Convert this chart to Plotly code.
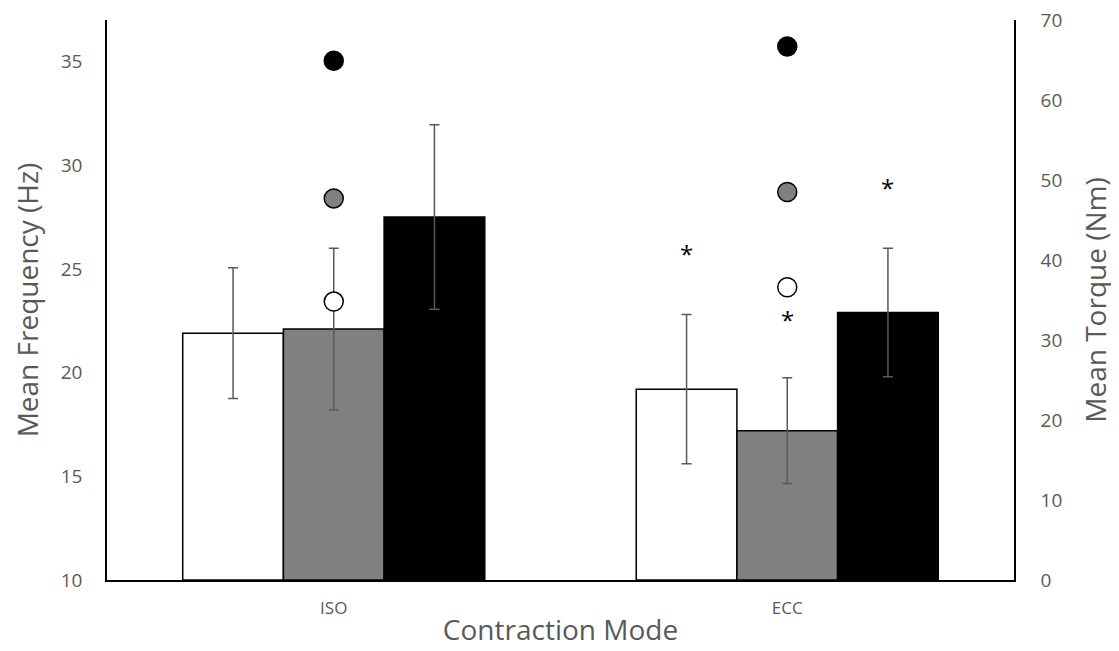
import plotly.graph_objects as go

categories = ["ISO", "ECC"]

# Mean frequency (Hz) - bars, left axis
freq_white = [21.9, 19.2]
freq_white_err = [3.15, 3.6]
freq_gray = [22.1, 17.2]
freq_gray_err = [3.9, 2.55]
freq_black = [27.5, 22.9]
freq_black_err = [4.45, 3.1]

# Mean torque (Nm) - circles, right axis
torque_white = [34.8, 36.6]
torque_gray = [47.7, 48.5]
torque_black = [64.9, 66.7]

# significance markers (Hz position, per bar series) for ECC
star_white = [None, 25.85]
star_gray = [None, 22.66]
star_black = [None, 29.03]

FONT = "Open Sans"
TXT = "#595959"
ERR_COLOR = "#595959"

fig = go.Figure()

bar_specs = [
    ("Freq 1", freq_white, freq_white_err, "#FFFFFF"),
    ("Freq 2", freq_gray, freq_gray_err, "#808080"),
    ("Freq 3", freq_black, freq_black_err, "#000000"),
]
for name, vals, errs, col in bar_specs:
    fig.add_trace(go.Bar(
        x=categories, y=[v - 10 for v in vals], base=10, name=name,
        marker=dict(color=col, line=dict(color="#000000", width=1.5)),
        error_y=dict(type="data", array=errs, color=ERR_COLOR, thickness=1.5, width=5),
        offsetgroup=name,
    ))

dot_specs = [
    ("Torque 1", torque_white, "#FFFFFF"),
    ("Torque 2", torque_gray, "#808080"),
    ("Torque 3", torque_black, "#000000"),
]
for name, vals, col in dot_specs:
    fig.add_trace(go.Scatter(
        x=categories, y=vals, name=name, mode="markers", yaxis="y2",
        marker=dict(color=col, size=19, line=dict(color="#000000", width=1.5)),
    ))

# asterisks centred on each ECC bar
bar_w_frac = 0.222  # fraction of category used by each bar
offsets = [-1, 0, 1]
annotations = []
for stars, off in zip([star_white, star_gray, star_black], offsets):
    for i, s in enumerate(stars):
        if s is None:
            continue
        annotations.append(dict(
            x=i + off * bar_w_frac, y=s, xref="x", yref="y", text="*",
            showarrow=False, font=dict(family=FONT, size=24, color="#000000"),
            yanchor="middle", xanchor="center", yshift=-2,
        ))

fig.update_layout(
    width=1111, height=643,
    margin=dict(l=99, r=105, t=12, b=71, autoexpand=False),
    paper_bgcolor="white", plot_bgcolor="white",
    barmode="group", bargap=0.334, bargroupgap=0,
    showlegend=False,
    font=dict(family=FONT, color=TXT),
    annotations=annotations,
    xaxis=dict(
        showline=True, linecolor="#000000", linewidth=1.5, automargin=False,
        ticks="", ticklabelstandoff=12, tickfont=dict(size=17, color=TXT),
        title=dict(text="Contraction Mode", font=dict(size=28, color=TXT), standoff=2),
        showgrid=False, zeroline=False,
    ),
    yaxis=dict(
        range=[10, 37], tickvals=[10, 15, 20, 25, 30, 35], automargin=False,
        showline=True, linecolor="#000000", linewidth=1.5,
        ticks="", ticklabelstandoff=19, ticklabeloverflow="allow",
        tickfont=dict(size=19, color=TXT),
        title=dict(text="Mean Frequency (Hz)", font=dict(size=28, color=TXT), standoff=22),
        showgrid=False, zeroline=False,
    ),
    yaxis2=dict(
        range=[0, 70], tickvals=[0, 10, 20, 30, 40, 50, 60, 70], automargin=False,
        overlaying="y", side="right",
        showline=True, linecolor="#000000", linewidth=1.5,
        ticks="", ticklabelstandoff=21, ticklabeloverflow="allow",
        tickfont=dict(size=19, color=TXT),
        title=dict(text="Mean Torque (Nm)", font=dict(size=28, color=TXT), standoff=25),
        showgrid=False, zeroline=False,
    ),
)

fig.write_html("out.html")
